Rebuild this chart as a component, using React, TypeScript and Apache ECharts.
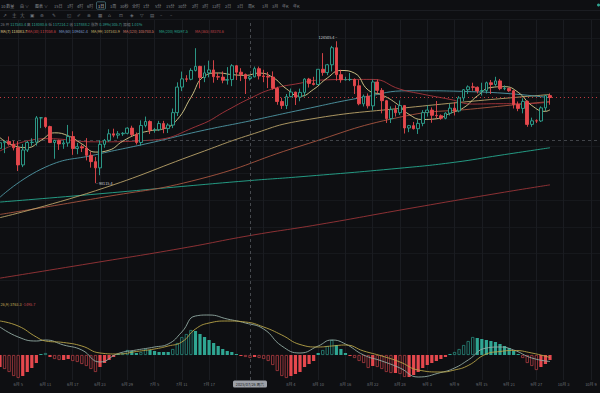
import React, { useEffect, useRef } from 'react';
import * as echarts from 'echarts';

const BG = '#0e0f12';
const UP = '#2fa592';
const DOWN = '#e5484d';
const UP_DIM = '#2a8a7e';
const DOWN_DIM = '#b03c41';
const FONT = '"Noto Sans CJK SC", "Noto Sans", sans-serif';

// ---------- data ----------
const MONTHS: [number, number][] = [[6, 30], [7, 31], [8, 31], [9, 30], [10, 11]];
const categories: string[] = MONTHS.flatMap(([m, n]) => Array.from({ length: n }, (_, i) => `${m}月 ${i + 1}`));

// vertical grid every 6 days; labels hidden where the crosshair date box covers them
const gridTicks = ['6月 5', '6月 11', '6月 17', '6月 23', '6月 29', '7月 5', '7月 11', '7月 17', '7月 23', '7月 29',
  '8月 4', '8月 10', '8月 16', '8月 22', '8月 28', '9月 3', '9月 9', '9月 15', '9月 21', '9月 27', '10月 3', '10月 9'];
const dateTicks = ['6月 5', '6月 11', '6月 17', '6月 23', '6月 29', '7月 5', '7月 11', '7月 17',
  '8月 4', '8月 10', '8月 16', '8月 22', '8月 28', '9月 3', '9月 9', '9月 15', '9月 21', '9月 27', '10月 3', '10月 9'];

// [open, close, low, high]  6/1 .. 9/30
const candles: number[][] = [
  [104591, 105642, 103910, 105882], [105642, 105857, 103700, 105980], [105857, 105376, 105100, 106800],
  [105376, 104696, 104200, 106000], [104696, 101508, 100370, 105930], [101508, 104288, 101100, 105400],
  [104288, 105681, 103900, 105970], [105681, 105734, 105080, 106460], [105734, 110263, 105100, 110600],
  [110263, 110274, 108360, 110400], [110274, 108645, 108350, 110400], [108645, 105671, 105570, 108800],
  [105671, 106067, 102660, 106180], [106067, 105414, 104300, 106200], [105414, 105594, 104500, 106100],
  [105594, 106795, 104900, 108950], [106795, 104551, 103380, 107770], [104551, 104886, 103500, 105600],
  [104886, 104658, 103900, 105300], [104658, 103297, 102350, 106500], [103297, 102120, 101000, 104000],
  [102120, 100963, 98115.4, 103000], [100963, 105333, 99600, 106100], [105333, 106084, 104700, 106320],
  [106084, 107297, 105800, 108150], [107297, 107047, 106650, 108250], [107047, 107296, 106400, 107800],
  [107296, 107391, 106900, 107600], [107391, 108356, 107200, 108500], [108356, 107136, 106800, 108800],
  [107136, 105681, 105300, 107540], [105681, 108850, 105100, 109800], [108850, 109584, 108500, 110500],
  [109584, 107985, 107250, 109800], [107985, 108061, 107500, 108400], [108061, 109203, 107800, 109700],
  [109203, 108262, 107400, 109700], [108262, 108923, 107450, 109250], [108923, 111233, 108350, 111999],
  [111233, 115987, 110600, 116868], [115987, 117516, 115230, 118870], [117516, 117435, 116950, 118200],
  [117435, 119086, 117250, 119490], [119086, 119841, 118900, 123218], [119841, 117758, 115740, 119950],
  [117758, 118630, 116900, 120000], [118630, 119177, 117800, 120900], [119177, 117925, 116800, 120980],
  [117925, 117840, 117300, 118600], [117840, 117265, 116700, 118900], [117265, 117380, 116450, 119700],
  [117380, 119954, 116160, 120250], [119954, 118755, 117300, 120100], [118755, 118340, 117100, 119500],
  [118340, 117583.4, 114700, 118500], [117583.4, 117888.2, 117214.2, 118080.6], [117888.2, 119415, 117800, 119800],
  [119415, 118062, 117400, 119800], [118062, 117950, 116900, 119200], [117950, 117840, 115800, 118800],
  [117840, 115764, 115500, 118900], [115764, 113297, 112700, 116050], [113297, 112546, 111920, 114000],
  [112546, 114208, 111900, 114700], [114208, 115055, 114100, 115720], [115055, 114129, 112650, 115120],
  [114129, 114992, 113350, 115700], [114992, 117472, 114250, 117640], [117472, 116674, 115900, 117700],
  [116674, 116462, 116300, 117900], [116462, 119294, 116450, 119300], [119294, 118686, 118100, 122300],
  [118686, 120134, 118200, 120300], [120134, 123306, 118900, 123650], [123306, 118295, 117180, 124505.4],
  [118295, 117342, 116800, 119200], [117342, 117380, 117200, 117900], [117380, 117405, 117100, 118600],
  [117405, 116227, 114700, 117600], [116227, 112872, 112600, 117300], [112872, 114271, 112380, 114600],
  [114271, 112500, 112000, 114800], [112500, 116935, 111650, 117400], [116935, 115374, 114800, 117400],
  [115374, 113458, 111100, 115800], [113458, 110124, 109300, 113600], [110124, 111788, 109300, 112400],
  [111788, 111222, 110500, 112600], [111222, 112544, 110800, 113500], [112544, 108377, 107350, 112600],
  [108377, 108816, 107600, 108950], [108816, 108246, 108100, 109500], [108246, 109237, 107270, 109900],
  [109237, 111240, 108700, 111700], [111240, 111705, 110500, 112600], [111705, 110730, 109350, 112200],
  [110730, 110659, 110200, 113400], [110659, 110187, 109900, 110900], [110187, 111137, 110000, 111300],
  [111137, 112065, 110700, 112900], [112065, 111546, 110700, 113200], [111546, 113960, 111300, 114300],
  [113960, 115498, 113400, 115600], [115498, 116029, 114700, 116300], [116029, 115950, 115300, 116800],
  [115950, 115268, 114800, 116100], [115268, 115349, 114400, 116800], [115349, 116789, 114800, 117000],
  [116789, 116468, 114700, 117300], [116468, 117137, 116200, 117900], [117137, 115688, 115400, 117500],
  [115688, 115721, 115400, 116300], [115721, 115306, 115100, 115900], [115306, 112748, 112000, 115400],
  [112748, 112014, 111500, 113300], [112014, 113328, 111100, 113900], [113328, 109049, 108600, 113500],
  [109049, 109711, 108600, 110300], [109711, 109681, 109300, 110000], [109681, 112122, 109500, 112400],
  [112122, 114400, 111500, 114500], [114400, 114048, 112700, 114800],
];

// moving averages, [day index, value]
const ma7 = [[0, 106579], [3, 105107], [6, 104721], [9, 106063], [12, 107476], [15, 106923], [18, 105424], [21, 103896],
  [24, 104250], [27, 105916], [30, 107172], [33, 107855], [36, 108232], [39, 109951], [42, 114063], [45, 118036],
  [48, 118608], [51, 118310], [54, 118164], [57, 118580], [60, 117795], [63, 115667], [66, 114284], [69, 115570],
  [72, 117673], [75, 119074], [78, 118584], [81, 115428], [84, 114520], [87, 113057], [90, 110904], [93, 109955],
  [96, 110090], [99, 111103], [102, 112150], [105, 114331], [108, 115907], [111, 116060], [114, 115012],
  [117, 112554], [120, 111472], [121, 111763]];
const ma30 = [[0, 104100], [10, 106400], [21, 105800], [33, 106100], [44, 108950], [50, 111684], [55, 113880],
  [60, 115652], [66, 116700], [70, 117269], [77, 117400], [82, 117413], [88, 115600], [93, 114662], [99, 113700],
  [104, 112827], [110, 112900], [115, 112892], [121, 113200]];
const ma60 = [[0, 95500], [10, 101100], [21, 103400], [33, 105600], [44, 107800], [55, 109700], [66, 111700],
  [80, 114100], [90, 115300], [105, 115100], [121, 114000]];
const ma99 = [[0, 91700], [21, 96700], [44, 103800], [55, 107100], [66, 109700], [90, 112200], [121, 114600]];
const ma120 = [[0, 92300], [22, 95400], [44, 98900], [66, 105000], [88, 110400], [105, 112000], [121, 113300]];
const ma200 = [[0, 94600], [20, 96000], [40, 97500], [55, 98600], [66, 99300], [88, 100900], [100, 102000],
  [110, 103300], [121, 104700]];
const ma365 = [[0, 80450], [20, 83200], [40, 86000], [55, 88370], [70, 90400], [90, 93400], [110, 96300], [121, 97800]];

// MACD histogram per day
const macdHist = [-1200, -1400, -1700, -2100, -2300, -2100, -1700, -1300, -800, 100, 200, -200, -400, -500, -500,
  -400, -600, -700, -900, -1100, -1400, -1700, -1200, -800, -500, -200, 100, 200, 500, 400, 200, 300, 600, 500, 400,
  300, 300, 300, 600, 1200, 1800, 2100, 2500, 2400, 2100, 1800, 1500, 1200, 900, 600, 400, 300, 100, -100, -200,
  -300, -200, -300, -400, -600, -1000, -1600, -2100, -2300, -2100, -1900, -1700, -1200, -900, -600, 200, 500, 900,
  1500, 1000, 600, 200, -100, -300, -600, -800, -1300, -1100, -1200, -1400, -1700, -1800, -1800, -1900, -2200, -2200,
  -2000, -1700, -1300, -1000, -800, -600, -400, -200, 100, 300, 600, 1000, 1400, 1800, 1700, 1600, 1500, 1400, 1300,
  1100, 900, 700, 400, 100, -300, -800, -1100, -1500, -1200, -900, -500];
const dif = [[0, 2800], [4, 1800], [8, 1400], [10, 1500], [14, 1000], [18, 500], [22, -700], [26, 150], [30, 500],
  [34, 800], [37, 1100], [40, 2300], [43, 3900], [46, 4000], [50, 3600], [54, 3200], [58, 2600], [62, 900], [66, 200],
  [70, 900], [73, 1500], [76, 1100], [80, 0], [84, -600], [88, -1300], [92, -2200], [97, -1750], [100, -1300],
  [103, -500], [107, 700], [110, 800], [113, 500], [117, -300], [121, -650]];
const dea = [[0, 3400], [4, 2900], [8, 1800], [10, 1400], [14, 1250], [18, 900], [22, 200], [26, 100], [30, 350],
  [34, 600], [37, 900], [40, 1300], [43, 2600], [46, 3200], [50, 3400], [54, 3300], [58, 2800], [62, 2000], [66, 1050],
  [70, 800], [73, 900], [76, 1000], [80, 400], [84, -100], [88, -700], [92, -1500], [97, -1700], [100, -1500],
  [103, -1050], [107, 100], [110, 350], [113, 450], [117, 200], [121, -250]];

const lastPrice = 114048;
const crossPrice = 106143;
const crossIndex = 55;
const highIndex = 74;
const highValue = 124505.4;
const lowIndex = 21;
const lowValue = 98115.4;

const maLegend: [string, string, number][] = [
  ['MA(7) 118083.7', '#e2d38d', 0.5], ['MA(30) 117058.6', '#d1454b', 27], ['MA(60) 109462.4', '#7f9fd0', 59],
  ['MA(99) 107343.9', '#c9b46c', 91], ['MA(120) 105740.5', '#d97b6c', 123], ['MA(200) 98597.5', '#26a88e', 159],
  ['MA(365) 88374.6', '#c2454a', 195],
];
const toolbarItems: [string, number][] = [['10 数量', 1], ['由 ∨', 20], ['图表 ∨', 35], ['15日', 54], ['1时', 67],
  ['4时', 77], ['6时', 87], ['1日', 98], ['1周', 110], ['30秒', 120], ['全时', 132], ['1分', 143], ['5分', 155],
  ['15分', 166], ['30分', 178], ['2时', 192], ['3时', 202], ['12时', 212], ['2日', 225], ['3日', 237], ['周K', 248],
  ['1月', 262], ['3月', 272], ['年K', 282], ['年K', 293]];
const toolIcons: [string, number][] = [['↗', 3], ['主', 12], ['大', 20], ['▣', 30], ['⊕', 40], ['✎', 52], ['◱', 67],
  ['✐', 77], ['⊗', 87], ['▦', 98], ['⌂', 108], ['⊡', 119], ['◈', 130], ['▽', 140], ['▤', 150], ['–', 160], ['–', 170]];

// ---------- layout constants ----------
const Y_REF = 97.5;
const UPP = 186;
const MAIN_MAX = 125000;
const MAIN_MIN = 80000;
const mainTop = Y_REF - (MAIN_MAX - lastPrice) / UPP;
const mainHeight = (MAIN_MAX - MAIN_MIN) / UPP;

const labelFn = (_i: number, v: string) => dateTicks.includes(v);
const gridFn = (_i: number, v: string) => gridTicks.includes(v);

function buildOption() {
  const hidden = { show: false };
  const xBase = (gridIndex: number) => ({
    type: 'category', gridIndex, data: categories, boundaryGap: false,
    axisLine: hidden, axisTick: hidden, axisLabel: hidden, splitLine: hidden,
  });
  const maLine = (name: string, data: number[][], color: string) => ({
    type: 'line', name, data, xAxisIndex: 0, yAxisIndex: 0, smooth: true, symbol: 'none', showSymbol: false,
    lineStyle: { color, width: 0.9 }, clip: false, silent: true, z: 3,
  });

  const macdBars = macdHist.map((v, i) => {
    const prev = i > 0 ? macdHist[i - 1] : v;
    const growing = Math.abs(v) > Math.abs(prev);
    const pos = v >= 0;
    return {
      value: v,
      itemStyle: growing
        ? { color: BG, borderColor: pos ? UP_DIM : DOWN_DIM, borderWidth: 0.8 }
        : { color: pos ? UP : DOWN },
    };
  });

  const tiny = (text: string, x: number, y: number, fill: string, size = 3.9, extra: any = {}) => ({
    type: 'text', x, y, z: 100,
    style: { text, fill, fontSize: size, fontFamily: FONT, verticalAlign: 'middle', ...extra },
  });

  const graphics: any[] = [
    { type: 'line', shape: { x1: 0, y1: 10.5, x2: 600, y2: 10.5 }, style: { stroke: '#1b1d22', lineWidth: 1 }, z: 99 },
    { type: 'line', shape: { x1: 0, y1: 19.5, x2: 600, y2: 19.5 }, style: { stroke: '#17191d', lineWidth: 1 }, z: 99 },
    { type: 'rect', shape: { x: 96.5, y: 1.8, width: 9, height: 7.4, r: 1 }, style: { fill: 'none', stroke: '#4d7f8a', lineWidth: 0.7 }, z: 100 },
    { type: 'circle', shape: { cx: 598.5, cy: 5, r: 1.5 }, style: { fill: UP }, z: 100 },
    ...toolbarItems.map(([t, x]) => tiny(t, x, 5.5, t === '1日' ? '#cfd3d8' : '#868a91', 4)),
    ...toolIcons.map(([t, x]) => tiny(t, x, 15, '#70747a', 4.6, { fontFamily: '"DejaVu Sans", ' + FONT })),
    {
      type: 'text', x: 0.5, y: 24.5, z: 100,
      style: {
        text: '{g|26} {g|开} {v|117583.4} {g|高} {v|118080.6} {g|低} {v|117214.2} {g|收} {v|117888.2} {g|涨跌} {v|0.39%(305.7)} {g|振幅} {v|1.01%}',
        fontSize: 3.8, fontFamily: FONT, verticalAlign: 'middle',
        rich: { g: { fill: '#7d8187', fontSize: 3.8, fontFamily: FONT }, v: { fill: UP, fontSize: 3.8, fontFamily: FONT } },
      },
    },
    ...maLegend.map(([t, c, x]) => tiny(t, x, 31, c, 3.8)),
    {
      type: 'text', x: 0.5, y: 304, z: 100,
      style: {
        text: '{y|26,9) 3763.3} {r|-1495.7}', fontSize: 3.8, fontFamily: FONT, verticalAlign: 'middle',
        rich: { y: { fill: '#c9b25a', fontSize: 3.8, fontFamily: FONT }, r: { fill: '#c2454a', fontSize: 3.8, fontFamily: FONT } },
      },
    },
    { type: 'rect', shape: { x: 233, y: 380.5, width: 34, height: 7, r: 1.5 }, style: { fill: '#9da1a8' }, z: 100 },
    tiny('2025/07/26 周六', 250, 384, '#1a1b1e', 3.8, { align: 'center' }),
  ];

  return {
    animation: false,
    backgroundColor: BG,
    textStyle: { fontFamily: FONT },
    grid: [
      { left: 0, right: 0, top: mainTop, height: mainHeight },
      { left: 0, right: 0, top: 300, height: 80 },
      { left: 0, right: 0, top: 20, height: 360 },
    ],
    xAxis: [
      xBase(0),
      { ...xBase(1), axisLabel: { show: true, interval: labelFn, color: '#6c7077', fontSize: 4, margin: 1.5, fontFamily: FONT } },
      { ...xBase(2), splitLine: { show: true, interval: gridFn, lineStyle: { color: '#1a1c21', width: 1 } } },
    ],
    yAxis: [
      {
        type: 'value', gridIndex: 0, min: MAIN_MIN, max: MAIN_MAX, interval: 5000, position: 'right',
        axisLine: hidden, axisTick: hidden, axisLabel: hidden,
        splitLine: { show: true, lineStyle: { color: '#16181c', width: 1 } },
      },
      { type: 'value', gridIndex: 1, min: -2500, max: 5500, axisLine: hidden, axisTick: hidden, axisLabel: hidden, splitLine: hidden },
      { type: 'value', gridIndex: 2, min: 0, max: 1, axisLine: hidden, axisTick: hidden, axisLabel: hidden, splitLine: hidden },
    ],
    series: [
      maLine('MA365', ma365, '#9a3438'),
      maLine('MA200', ma200, '#26a88e'),
      maLine('MA120', ma120, '#a8553f'),
      maLine('MA99', ma99, '#bba46a'),
      maLine('MA60', ma60, '#4f98a6'),
      maLine('MA30', ma30, '#a8363c'),
      maLine('MA7', ma7, '#ddd08e'),
      {
        type: 'candlestick', name: 'K', data: candles, xAxisIndex: 0, yAxisIndex: 0, barWidth: 3.2, z: 5,
        itemStyle: { color: BG, color0: DOWN, borderColor: UP, borderColor0: DOWN, borderWidth: 0.9 },
        markLine: {
          silent: true, symbol: ['none', 'none'], label: { show: false },
          data: [
            { yAxis: lastPrice, lineStyle: { color: '#c0393e', type: [1, 3], width: 1 } },
            { yAxis: crossPrice, lineStyle: { color: '#4f5258', type: [3, 3], width: 0.8 } },
          ],
        },
        markPoint: {
          silent: true, symbol: 'circle', symbolSize: 0.1, itemStyle: { color: 'transparent' },
          data: [
            {
              coord: [categories[highIndex], highValue],
              label: { show: true, position: 'left', distance: 0, offset: [1, -4], formatter: `${highValue} –`, color: '#c9ccd1', fontSize: 3.8, fontFamily: FONT },
            },
            {
              coord: [categories[lowIndex], lowValue],
              label: { show: true, position: 'right', distance: 0.5, formatter: `– ${lowValue}`, color: '#c9ccd1', fontSize: 3.8, fontFamily: FONT },
            },
          ],
        },
      },
      { type: 'bar', name: 'MACD', data: macdBars, xAxisIndex: 1, yAxisIndex: 1, barWidth: 3.2, silent: true },
      { type: 'line', name: 'DIF', data: dif, xAxisIndex: 1, yAxisIndex: 1, smooth: true, symbol: 'none', lineStyle: { color: '#93aba4', width: 0.9 }, silent: true },
      { type: 'line', name: 'DEA', data: dea, xAxisIndex: 1, yAxisIndex: 1, smooth: true, symbol: 'none', lineStyle: { color: '#b9a548', width: 0.9 }, silent: true },
      {
        type: 'scatter', data: [[crossIndex, 0.5]], xAxisIndex: 2, yAxisIndex: 2, symbolSize: 0, silent: true,
        markLine: {
          silent: true, symbol: ['none', 'none'], label: { show: false },
          lineStyle: { color: '#55585e', type: [3, 3], width: 0.8 },
          data: [{ xAxis: categories[crossIndex] }],
        },
      },
    ],
    graphic: graphics,
  };
}

export default function App() {
  const ref = useRef<HTMLDivElement>(null);
  useEffect(() => {
    document.body.style.margin = '0';
    document.body.style.background = BG;
    const chart = echarts.init(ref.current!, null, { renderer: 'svg' });
    chart.setOption(buildOption() as any);
    return () => chart.dispose();
  }, []);
  return <div ref={ref} style={{ position: 'fixed', left: 0, top: 0, width: 600, height: 393 }} />;
}
